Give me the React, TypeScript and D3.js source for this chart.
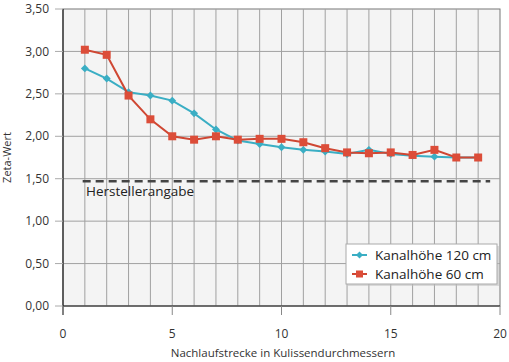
import React from "react";
import * as d3 from "d3";

const xValues = [1, 2, 3, 4, 5, 6, 7, 8, 9, 10, 11, 12, 13, 14, 15, 16, 17, 18, 19];
const kanal120 = [2.8, 2.68, 2.52, 2.48, 2.42, 2.27, 2.08, 1.95, 1.91, 1.87, 1.84, 1.82, 1.79, 1.84, 1.79, 1.77, 1.76, 1.75, 1.75];
const kanal60 = [3.02, 2.96, 2.48, 2.2, 2.0, 1.96, 2.0, 1.96, 1.97, 1.97, 1.93, 1.86, 1.81, 1.8, 1.81, 1.78, 1.84, 1.75, 1.75];
const hersteller = 1.47;
const xTicks = [0, 5, 10, 15, 20];
const yTicks = [0, 0.5, 1, 1.5, 2, 2.5, 3, 3.5];

const fmt = (v: number) => v.toFixed(2).replace(".", ",");

const App = () => {
  const width = 509;
  const height = 362;
  const margin = { top: 9, right: 9, bottom: 56, left: 63 };
  const innerW = width - margin.left - margin.right;
  const innerH = height - margin.top - margin.bottom;

  const x = d3.scaleLinear().domain([0, 20]).range([0, innerW]);
  const y = d3.scaleLinear().domain([0, 3.5]).range([innerH, 0]);

  const line = d3
    .line<number>()
    .x((_, i) => x(xValues[i]))
    .y((d) => y(d));

  const font = "'Open Sans', 'Noto Sans', sans-serif";
  const cyan = "#3aaec4";
  const red = "#dc4d39";

  return (
    <svg
      width={width}
      height={height}
      style={{ position: "absolute", left: 0, top: 0, fontFamily: font }}
    >
      <rect width={width} height={height} fill="#fff" />
      <g transform={`translate(${margin.left},${margin.top})`}>
        <rect width={innerW} height={innerH} fill="#f4f4f4" stroke="#777" strokeWidth={1} />
        {d3.range(1, 20).map((v) => (
          <line key={"vx" + v} x1={x(v)} x2={x(v)} y1={0} y2={innerH} stroke="#a0a0a0" strokeWidth={1} />
        ))}
        {yTicks.slice(1, -1).map((v) => (
          <line key={"hy" + v} x1={0} x2={innerW} y1={y(v)} y2={y(v)} stroke="#a0a0a0" strokeWidth={1} />
        ))}
        {/* axes */}
        <line x1={0} x2={0} y1={0} y2={innerH + 9} stroke="#222" strokeWidth={1.2} />
        <line x1={0} x2={innerW} y1={innerH} y2={innerH} stroke="#222" strokeWidth={1.2} />
        {yTicks.map((v) => (
          <g key={"yt" + v}>
            <line x1={-8} x2={0} y1={y(v)} y2={y(v)} stroke="#aaa" strokeWidth={1} />
            <text x={-14} y={y(v)} dy="0.35em" textAnchor="end" fontSize={12} fill="#333">
              {fmt(v)}
            </text>
          </g>
        ))}
        {xTicks.map((v) => (
          <g key={"xt" + v}>
            <line x1={x(v)} x2={x(v)} y1={innerH} y2={innerH + 9} stroke="#888" strokeWidth={1} />
            <text x={x(v)} y={innerH + 32} textAnchor="middle" fontSize={12} fill="#333">
              {v}
            </text>
          </g>
        ))}
        <text x={220} y={innerH + 51} textAnchor="middle" fontSize={11.5} fill="#333">
          Nachlaufstrecke in Kulissendurchmessern
        </text>
        <text
          transform={`translate(${-52},${innerH / 2}) rotate(-90)`}
          textAnchor="middle"
          fontSize={11}
          fill="#333"
        >
          Zeta-Wert
        </text>

        {/* Herstellerangabe */}
        <line
          x1={x(0.9)}
          x2={x(19.55)}
          y1={y(hersteller)}
          y2={y(hersteller)}
          stroke="#444"
          strokeWidth={2.5}
          strokeDasharray="8 5"
        />
        <text x={x(1.05)} y={y(hersteller) + 15} fontSize={13.5} fill="#222">
          Herstellerangabe
        </text>

        {/* series */}
        <path d={line(kanal120) || ""} fill="none" stroke={cyan} strokeWidth={2} />
        {kanal120.map((v, i) => (
          <rect
            key={"c" + i}
            x={-2.8}
            y={-2.8}
            width={5.6}
            height={5.6}
            fill={cyan}
            transform={`translate(${x(xValues[i])},${y(v)}) rotate(45)`}
          />
        ))}
        <path d={line(kanal60) || ""} fill="none" stroke="#cf4733" strokeWidth={2} />
        {kanal60.map((v, i) => (
          <rect key={"r" + i} x={x(xValues[i]) - 4} y={y(v) - 4} width={8} height={8} fill={red} />
        ))}

        {/* legend */}
        <g transform={`translate(${283},${235})`}>
          <rect x={2} y={2} width={151} height={40} fill="#bbb" opacity={0.5} />
          <rect width={151} height={40} fill="#fff" stroke="#aaa" strokeWidth={1} />
          <line x1={6} x2={21} y1={11} y2={11} stroke={cyan} strokeWidth={2} />
          <rect x={-2.5} y={-2.5} width={5} height={5} fill={cyan} transform="translate(13.5,11) rotate(45)" />
          <text x={29} y={11} dy="0.35em" fontSize={13.5} fill="#222">
            Kanalhöhe 120 cm
          </text>
          <line x1={6} x2={21} y1={30} y2={30} stroke="#cf4733" strokeWidth={2} />
          <rect x={10} y={26.5} width={7} height={7} fill={red} />
          <text x={29} y={30} dy="0.35em" fontSize={13.5} fill="#222">
            Kanalhöhe 60 cm
          </text>
        </g>
      </g>
    </svg>
  );
};

export default App;
